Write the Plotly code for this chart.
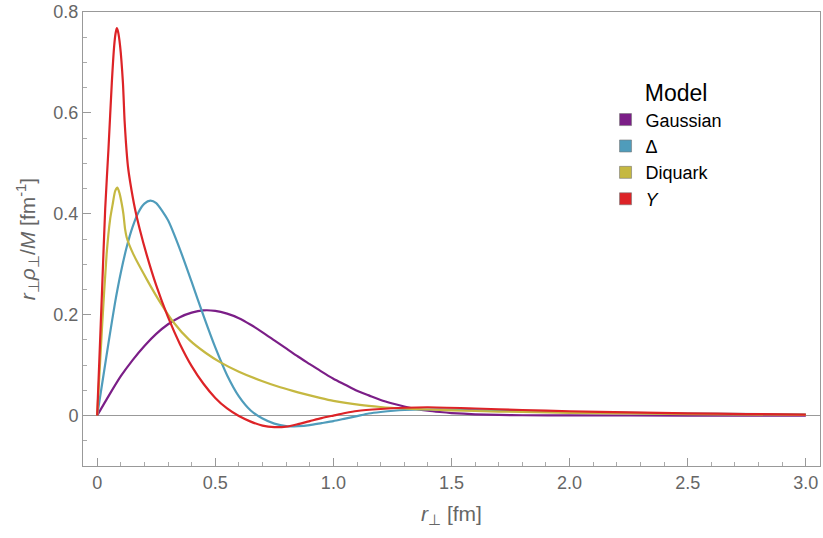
import plotly.graph_objects as go

# ---- data ----
x_gauss = [0, 0.05, 0.1, 0.15, 0.2, 0.25, 0.3, 0.35, 0.4, 0.45, 0.5, 0.55, 0.6, 0.65, 0.7, 0.75,
           0.8, 0.85, 0.9, 0.95, 1.0, 1.05, 1.1, 1.15, 1.2, 1.25, 1.3, 1.35, 1.4, 1.45, 1.5, 1.6,
           1.7, 1.8, 2.0, 2.5, 3.0]
y_gauss = [0, 0.04, 0.078, 0.11, 0.138, 0.162, 0.181, 0.195, 0.204, 0.2085, 0.2075, 0.202, 0.193,
           0.18, 0.165, 0.149, 0.133, 0.117, 0.102, 0.087, 0.073, 0.061, 0.049, 0.04, 0.031, 0.024,
           0.018, 0.013, 0.0095, 0.007, 0.005, 0.0025, 0.0012, 0.0006, 0.0002, 0.0, 0.0]

x_delta = [0, 0.025, 0.05, 0.075, 0.1, 0.125, 0.15, 0.175, 0.2, 0.225, 0.25, 0.3, 0.35, 0.4, 0.45,
           0.5, 0.55, 0.6, 0.65, 0.7, 0.75, 0.8, 0.85, 0.9, 0.95, 1.0, 1.05, 1.1, 1.15, 1.2, 1.3,
           1.4, 1.5, 1.7, 2.0, 2.5, 3.0]
y_delta = [0, 0.075, 0.15, 0.222, 0.283, 0.334, 0.374, 0.403, 0.42, 0.426, 0.421, 0.387, 0.33,
           0.265, 0.198, 0.135, 0.08, 0.038, 0.01, -0.006, -0.016, -0.021, -0.021, -0.019, -0.015,
           -0.011, -0.006, -0.001, 0.004, 0.007, 0.011, 0.012, 0.012, 0.010, 0.007, 0.004, 0.002]

x_diquark = [0, 0.02, 0.04, 0.055, 0.066, 0.076, 0.086, 0.095, 0.104, 0.111, 0.118, 0.125, 0.153,
             0.21, 0.266, 0.323, 0.39, 0.46, 0.52, 0.6, 0.7, 0.775, 0.85, 0.943, 1.0, 1.112, 1.2, 1.3,
             1.4, 1.6, 1.8, 2.0, 2.5, 3.0]
y_diquark = [0, 0.17, 0.32, 0.39, 0.42, 0.445, 0.452, 0.44, 0.42, 0.40, 0.37, 0.353, 0.32, 0.27,
             0.225, 0.185, 0.15, 0.124, 0.106, 0.087, 0.068, 0.056, 0.046, 0.035, 0.029, 0.021, 0.017,
             0.014, 0.012, 0.009, 0.007, 0.0055, 0.003, 0.0015]

x_y = [0, 0.01, 0.02, 0.034, 0.048, 0.062, 0.072, 0.078, 0.083, 0.088, 0.097, 0.109, 0.116, 0.122,
       0.13, 0.14, 0.16, 0.18, 0.21, 0.25, 0.3, 0.35, 0.4, 0.45, 0.5, 0.55, 0.6, 0.65, 0.7, 0.75, 0.8,
       0.85, 0.9, 0.95, 1.0, 1.05, 1.1, 1.2, 1.3, 1.4, 1.6, 1.8, 2.0, 2.25, 2.5, 2.75, 3.0]
y_y = [0, 0.12, 0.24, 0.41, 0.53, 0.66, 0.733, 0.758, 0.768, 0.762, 0.733, 0.66, 0.585, 0.54,
       0.495, 0.462, 0.41, 0.37, 0.318, 0.258, 0.195, 0.142, 0.098, 0.063, 0.035, 0.014, -0.001,
       -0.012, -0.02, -0.023, -0.022, -0.017, -0.011, -0.005, 0.0, 0.005, 0.009, 0.013, 0.0155,
       0.0165, 0.014, 0.011, 0.0085, 0.0065, 0.0045, 0.003, 0.002]

names = ["Gaussian", "Δ", "Diquark", "<i>Y</i>"]
colors = ["#7B1E87", "#4F9CBB", "#C5B841", "#DD2327"]
xs = [x_gauss, x_delta, x_diquark, x_y]
ys = [y_gauss, y_delta, y_diquark, y_y]

x_tickvals = [0, 0.5, 1.0, 1.5, 2.0, 2.5, 3.0]
x_ticktext = ["0", "0.5", "1.0", "1.5", "2.0", "2.5", "3.0"]
y_tickvals = [0, 0.2, 0.4, 0.6, 0.8]
y_ticktext = ["0", "0.2", "0.4", "0.6", "0.8"]

fig = go.Figure()
for xv, yv, c in zip(xs, ys, colors):
    fig.add_trace(go.Scatter(x=xv, y=yv, mode="lines",
                             line=dict(color=c, width=2.2, shape="spline", smoothing=0.6),
                             showlegend=False, hoverinfo="skip"))
for n, c in zip(names, colors):
    fig.add_trace(go.Scatter(x=[None], y=[None], mode="markers", name=n,
                             marker=dict(symbol="square", size=12, color=c,
                                         line=dict(color="#777777", width=0.6))))

axis_font = dict(family="Liberation Sans, Arial, sans-serif", size=18, color="#666666")
fig.update_layout(
    width=823, height=538,
    margin=dict(l=83, r=2, t=10, b=72),
    paper_bgcolor="white", plot_bgcolor="white",
    font=dict(family="Liberation Sans, Arial, sans-serif"),
    xaxis=dict(range=[-0.06, 3.06], tickvals=x_tickvals, ticktext=x_ticktext,
               ticks="inside", ticklen=8, tickcolor="#999999", tickwidth=1,
               minor=dict(ticks="inside", ticklen=4, dtick=0.1, tick0=0, tickcolor="#aaaaaa"),
               showgrid=False, zeroline=False, showline=True, mirror=True,
               linecolor="#999999", linewidth=1, tickfont=axis_font,
               title=dict(text="<i>r</i><sub>⊥</sub> [fm]",
                          font=dict(size=21, color="#666666"), standoff=14)),
    yaxis=dict(range=[-0.1, 0.8], tickvals=y_tickvals, ticktext=y_ticktext,
               ticks="inside", ticklen=8, tickcolor="#999999", tickwidth=1,
               minor=dict(ticks="inside", ticklen=4, dtick=0.05, tick0=0, tickcolor="#aaaaaa"),
               showgrid=False, zeroline=True, zerolinecolor="#999999", zerolinewidth=1,
               showline=True, mirror=True, linecolor="#999999", linewidth=1, tickfont=axis_font,
               title=dict(text="<i>r</i><sub>⊥</sub><i>ρ</i><sub>⊥</sub>/<i>M</i> [fm<sup>-1</sup>]",
                          font=dict(size=21, color="#666666"), standoff=12)),
    legend=dict(x=0.709, y=0.869, xanchor="left", yanchor="top",
                bgcolor="rgba(0,0,0,0)", font=dict(size=18, color="black"),
                title=dict(text="\u00a0\u00a0\u00a0Model", font=dict(size=23, color="black"),
                           side="top center"),
                itemwidth=30, tracegroupgap=0),
)
fig.write_html("out.html")
